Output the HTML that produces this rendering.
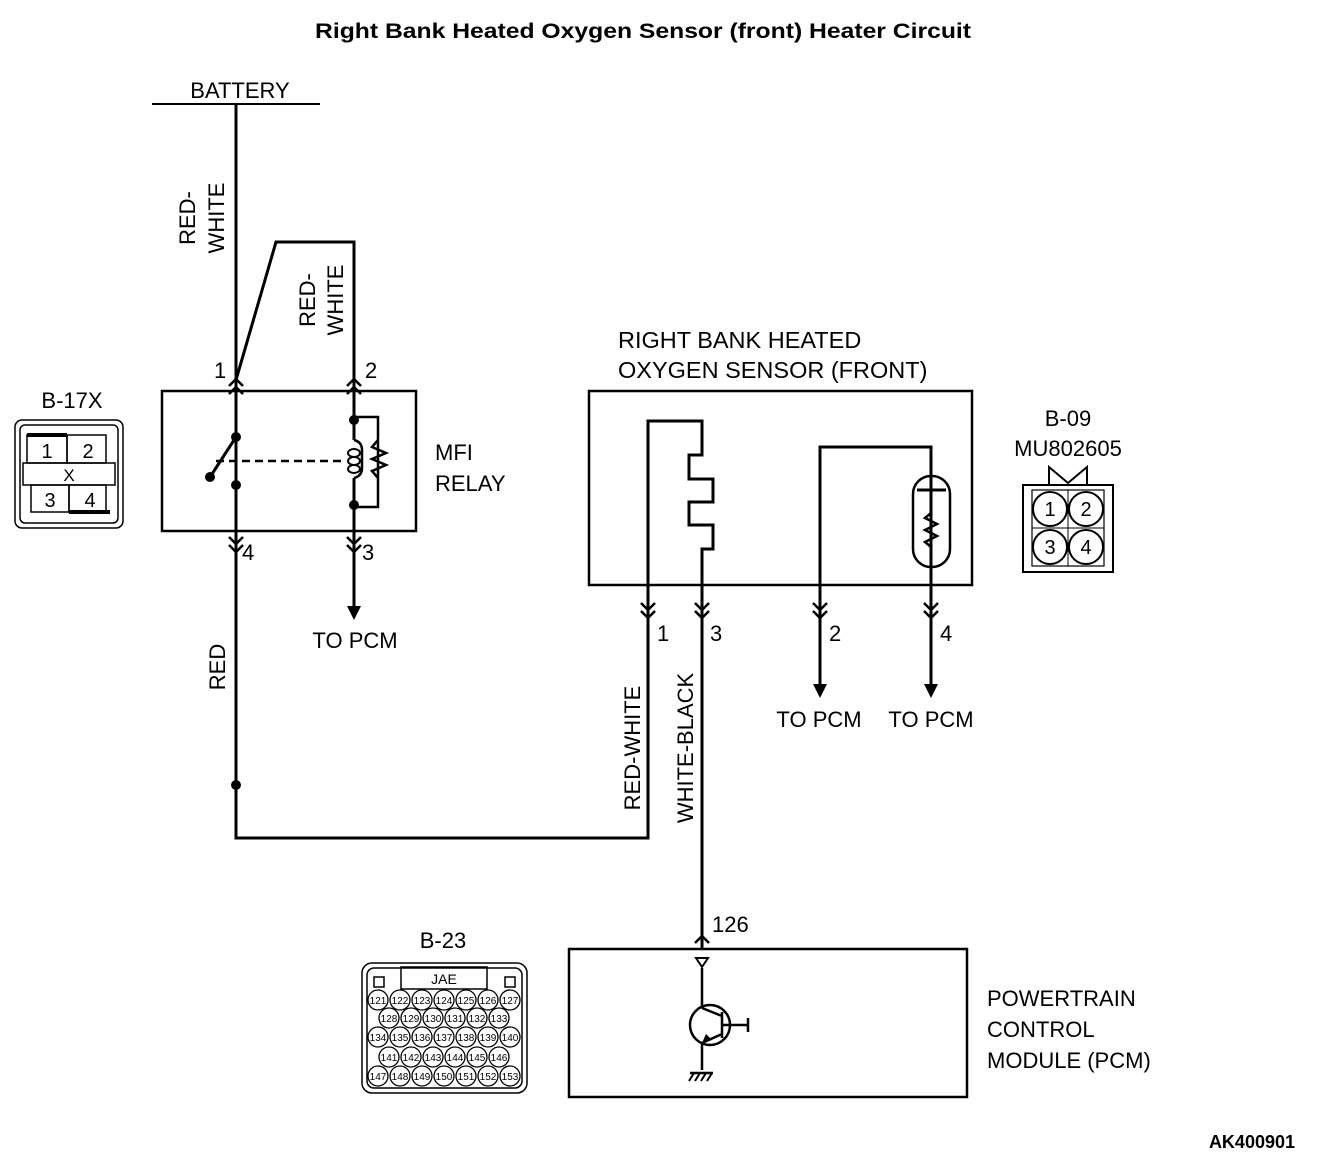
<!DOCTYPE html>
<html><head><style>body{margin:0;background:#fff}svg{display:block}text{font-family:"Liberation Sans",sans-serif;fill:#000}</style></head><body>
<svg width="1328" height="1168" viewBox="0 0 1328 1168" xmlns="http://www.w3.org/2000/svg">
<g font-size="22">
<text x="643" y="38" text-anchor="middle" font-weight="bold" font-size="21" textLength="656" lengthAdjust="spacingAndGlyphs">Right Bank Heated Oxygen Sensor (front) Heater Circuit</text>
<text x="240" y="98" text-anchor="middle">BATTERY</text>
<text x="72" y="408" text-anchor="middle">B-17X</text>
<text x="1068" y="426" text-anchor="middle">B-09</text>
<text x="1068" y="456" text-anchor="middle">MU802605</text>
<text x="443" y="948" text-anchor="middle">B-23</text>
<text x="435" y="460">MFI</text><text x="435" y="491">RELAY</text>
<text x="618" y="348" font-size="23.5">RIGHT BANK HEATED</text><text x="618" y="378" font-size="23.5">OXYGEN SENSOR (FRONT)</text>
<text x="987" y="1006">POWERTRAIN</text><text x="987" y="1037">CONTROL</text><text x="987" y="1068">MODULE (PCM)</text>
<text x="355" y="648" text-anchor="middle">TO PCM</text>
<text x="819" y="727" text-anchor="middle">TO PCM</text>
<text x="931" y="727" text-anchor="middle">TO PCM</text>
<text x="214" y="378">1</text><text x="365" y="378">2</text>
<text x="242" y="560">4</text><text x="362" y="560">3</text>
<text x="657" y="641">1</text><text x="710" y="641">3</text><text x="829" y="641">2</text><text x="940" y="641">4</text>
<text x="712" y="932">126</text>
<text transform="translate(195,218) rotate(-90)" text-anchor="middle">RED-</text>
<text transform="translate(224,218) rotate(-90)" text-anchor="middle">WHITE</text>
<text transform="translate(315,300) rotate(-90)" text-anchor="middle">RED-</text>
<text transform="translate(343,300) rotate(-90)" text-anchor="middle">WHITE</text>
<text transform="translate(225,667) rotate(-90)" text-anchor="middle">RED</text>
<text transform="translate(640,748) rotate(-90)" text-anchor="middle">RED-WHITE</text>
<text transform="translate(693,748) rotate(-90)" text-anchor="middle">WHITE-BLACK</text>
<text x="1295" y="1148" text-anchor="end" font-weight="bold" font-size="18">AK400901</text>
</g>
<g stroke="#000" stroke-width="3" fill="none">
<line x1="152" y1="104" x2="320" y2="104" stroke-width="2"/>
<polyline points="236,104 236,838 648,838 648,600"/>
<polyline points="236,380 276,242 354,242 354,440"/>
<polyline points="354,478 354,610"/>
<rect x="162" y="391" width="254" height="140" stroke-width="2.5"/>
<line x1="236" y1="391" x2="236" y2="437"/>
<line x1="236" y1="437" x2="212" y2="474"/>
<path d="M354 440 q8 2 8 10 v18 q0 8 -8 10" stroke-width="2.5"/>
<ellipse cx="354" cy="453" rx="6" ry="4" stroke-width="2"/>
<ellipse cx="354" cy="461" rx="6" ry="4" stroke-width="2"/>
<ellipse cx="354" cy="469" rx="6" ry="4" stroke-width="2"/>
<polyline points="354,417 378,417 378,507 354,507" stroke-width="2.5"/>
<polyline points="378,440 372,447 386,453 372,459 386,465 372,471 378,478" stroke-width="2.5"/>
<line x1="216" y1="461" x2="346" y2="461" stroke-dasharray="8,5" stroke-width="2.5"/>
<rect x="589" y="391" width="383" height="194" stroke-width="2.5"/>
<polyline points="648,600 648,421 702,421 702,455 689,455 689,479 713,479 713,502 689,502 689,525 713,525 713,549 702,549 702,948"/>
<polyline points="820,690 820,447 931,447 931,690"/>
<rect x="913" y="476" width="37" height="91" rx="18" stroke-width="2.5"/>
<line x1="917" y1="490" x2="946" y2="490"/>
<polyline points="931,513 925,518 937,524 925,530 937,536 925,542 931,547" stroke-width="2.5"/>
<rect x="569" y="949" width="398" height="148" stroke-width="2.5"/>
<line x1="702" y1="968" x2="702" y2="1008" stroke-width="2.5"/>
<line x1="702" y1="1043" x2="702" y2="1070" stroke-width="2.5"/>
<circle cx="710" cy="1025" r="20" stroke-width="2.5"/>
<line x1="722" y1="1012" x2="722" y2="1038" stroke-width="2.5"/>
<line x1="722" y1="1025" x2="748" y2="1025" stroke-width="2.5"/>
<line x1="748" y1="1018" x2="748" y2="1032" stroke-width="2.5"/>
<line x1="702" y1="1008" x2="722" y2="1016" stroke-width="2.5"/>
<line x1="702" y1="1043" x2="722" y2="1034" stroke-width="2.5"/>
<line x1="690" y1="1073" x2="713" y2="1073" stroke-width="2.5"/>
<path d="M694 1073l-5 8M700 1073l-5 8M706 1073l-5 8M712 1073l-5 8" stroke-width="2"/>
</g>
<g fill="#000">
<circle cx="236" cy="437" r="5"/><circle cx="236" cy="485" r="5"/><circle cx="210" cy="477" r="5"/>
<circle cx="354" cy="420" r="5"/><circle cx="354" cy="505" r="5"/><circle cx="236" cy="785" r="5"/>
<polygon points="347,606 361,606 354,620"/>
<polygon points="813,684 827,684 820,698"/>
<polygon points="924,684 938,684 931,698"/>
<polygon points="702,1043 706,1034 712,1040"/>
</g>
<g stroke="#000" stroke-width="2.5" fill="none">
<path d="M229 386l7-7 7 7M229 394l7-7 7 7M347 386l7-7 7 7M347 394l7-7 7 7"/>
<path d="M229 537l7 7 7-7M229 545l7 7 7-7M347 537l7 7 7-7M347 545l7 7 7-7"/>
<path d="M641 603l7 7 7-7M641 611l7 7 7-7M695 603l7 7 7-7M695 611l7 7 7-7M813 603l7 7 7-7M813 611l7 7 7-7M924 603l7 7 7-7M924 611l7 7 7-7"/>
<path d="M695 943l7-7 7 7"/>
<path d="M696 958h12l-6 9z" stroke-width="2"/>
</g>
<!-- B-17X -->
<g stroke="#000" fill="none" stroke-width="1.5">
<rect x="15" y="420" width="108" height="108" rx="7"/>
<rect x="20" y="425" width="98" height="98" rx="5"/>
<rect x="27" y="435" width="40" height="28"/><rect x="67" y="435" width="39" height="28"/>
<rect x="23" y="463" width="92" height="22"/>
<rect x="31" y="485" width="38" height="27"/><rect x="69" y="485" width="37" height="27"/>
<line x1="27" y1="435" x2="67" y2="435" stroke-width="4"/>
<line x1="69" y1="512" x2="110" y2="512" stroke-width="4"/>
</g>
<g font-size="20" text-anchor="middle"><text x="47" y="458">1</text><text x="88" y="458">2</text><text x="69" y="481" font-size="17">X</text><text x="50" y="507">3</text><text x="90" y="507">4</text></g>
<!-- B-09 -->
<g stroke="#000" fill="none" stroke-width="2">
<rect x="1023" y="485" width="90" height="87"/>
<rect x="1032" y="490" width="72" height="76" stroke-width="1.2"/>
<line x1="1068" y1="490" x2="1068" y2="566" stroke-width="1"/><line x1="1032" y1="528" x2="1104" y2="528" stroke-width="1"/>
<circle cx="1050" cy="509" r="17"/><circle cx="1086" cy="509" r="17"/><circle cx="1050" cy="547" r="17"/><circle cx="1086" cy="547" r="17"/>
<polyline points="1049,485 1049,467 1068,483 1087,467 1087,485"/>
</g>
<g font-size="20" text-anchor="middle"><text x="1050" y="516">1</text><text x="1086" y="516">2</text><text x="1050" y="554">3</text><text x="1086" y="554">4</text></g>
<!-- B-23 -->
<g stroke="#000" fill="none" stroke-width="1.5">
<rect x="362" y="963" width="165" height="130" rx="10"/>
<rect x="367" y="968" width="155" height="120" rx="7"/>
<rect x="401" y="967" width="86" height="22"/>
<rect x="374" y="977" width="10" height="10"/><rect x="505" y="977" width="10" height="10"/>
</g>
<text x="444" y="984" font-size="14" text-anchor="middle">JAE</text>
<g stroke="#000" fill="none" stroke-width="1.3">
<circle cx="378" cy="1000" r="10"/><circle cx="400" cy="1000" r="10"/><circle cx="422" cy="1000" r="10"/><circle cx="444" cy="1000" r="10"/><circle cx="466" cy="1000" r="10"/><circle cx="488" cy="1000" r="10"/><circle cx="510" cy="1000" r="10"/>
<circle cx="389" cy="1018" r="10"/><circle cx="411" cy="1018" r="10"/><circle cx="433" cy="1018" r="10"/><circle cx="455" cy="1018" r="10"/><circle cx="477" cy="1018" r="10"/><circle cx="499" cy="1018" r="10"/>
<circle cx="378" cy="1037" r="10"/><circle cx="400" cy="1037" r="10"/><circle cx="422" cy="1037" r="10"/><circle cx="444" cy="1037" r="10"/><circle cx="466" cy="1037" r="10"/><circle cx="488" cy="1037" r="10"/><circle cx="510" cy="1037" r="10"/>
<circle cx="389" cy="1057" r="10"/><circle cx="411" cy="1057" r="10"/><circle cx="433" cy="1057" r="10"/><circle cx="455" cy="1057" r="10"/><circle cx="477" cy="1057" r="10"/><circle cx="499" cy="1057" r="10"/>
<circle cx="378" cy="1076" r="10"/><circle cx="400" cy="1076" r="10"/><circle cx="422" cy="1076" r="10"/><circle cx="444" cy="1076" r="10"/><circle cx="466" cy="1076" r="10"/><circle cx="488" cy="1076" r="10"/><circle cx="510" cy="1076" r="10"/>
</g>
<g font-size="10" text-anchor="middle">
<text x="378" y="1004">121</text><text x="400" y="1004">122</text><text x="422" y="1004">123</text><text x="444" y="1004">124</text><text x="466" y="1004">125</text><text x="488" y="1004">126</text><text x="510" y="1004">127</text>
<text x="389" y="1022">128</text><text x="411" y="1022">129</text><text x="433" y="1022">130</text><text x="455" y="1022">131</text><text x="477" y="1022">132</text><text x="499" y="1022">133</text>
<text x="378" y="1041">134</text><text x="400" y="1041">135</text><text x="422" y="1041">136</text><text x="444" y="1041">137</text><text x="466" y="1041">138</text><text x="488" y="1041">139</text><text x="510" y="1041">140</text>
<text x="389" y="1061">141</text><text x="411" y="1061">142</text><text x="433" y="1061">143</text><text x="455" y="1061">144</text><text x="477" y="1061">145</text><text x="499" y="1061">146</text>
<text x="378" y="1080">147</text><text x="400" y="1080">148</text><text x="422" y="1080">149</text><text x="444" y="1080">150</text><text x="466" y="1080">151</text><text x="488" y="1080">152</text><text x="510" y="1080">153</text>
</g>
</svg>
</body></html>
